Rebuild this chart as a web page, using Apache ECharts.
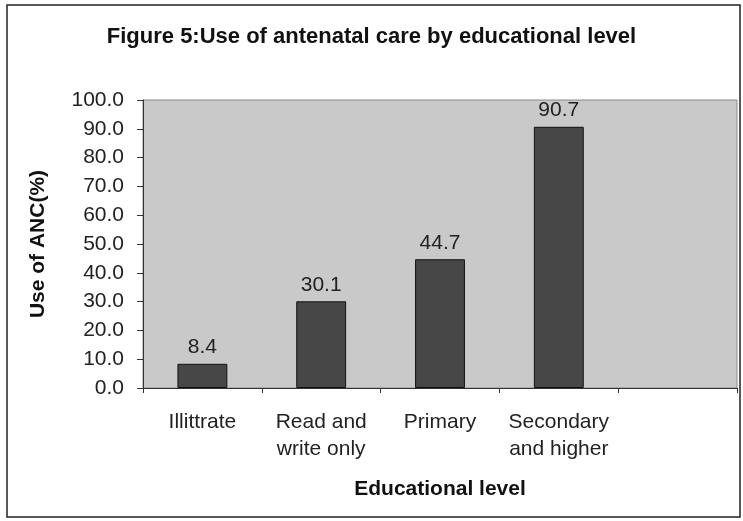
<!DOCTYPE html>
<html>
<head>
<meta charset="utf-8">
<script src="https://cdn.jsdelivr.net/npm/echarts@6/dist/echarts.min.js"></script>
<style>
  html, body { margin: 0; padding: 0; background: #ffffff; }
  #chart { width: 743px; height: 521px; }
</style>
</head>
<body>
<div id="chart"></div>
<script>
// Education categories (last slot intentionally blank)
const categories = ['Illittrate', 'Read and\nwrite only', 'Primary', 'Secondary\nand higher', ''];
// Share of women using antenatal care, %
const ancUse = [8.4, 30.1, 44.7, 90.7, null];
const yTicks = { min: 0, max: 100, interval: 10 };

const chart = echarts.init(document.getElementById('chart'));
const fontFam = '"Liberation Sans", Arial, sans-serif';

chart.setOption({
  backgroundColor: '#ffffff',
  animation: false,
  title: {
    text: 'Figure 5:Use of antenatal care by educational level',
    left: 'center',
    top: 21,
    textStyle: { fontFamily: fontFam, fontSize: 22, fontWeight: 'bold', color: '#111' }
  },
  graphic: [{
    type: 'rect',
    shape: { x: 7, y: 5, width: 733, height: 512 },
    style: { fill: 'none', stroke: '#222', lineWidth: 1.5 },
    silent: true
  }],
  grid: {
    left: 143, right: 6, top: 100, bottom: 133,
    show: true,
    backgroundColor: '#c9c9c9',
    borderColor: '#8a8a8a',
    borderWidth: 1
  },
  xAxis: {
    type: 'category',
    data: categories,
    name: 'Educational level',
    nameLocation: 'middle',
    nameGap: 91,
    nameTextStyle: { fontFamily: fontFam, fontSize: 21, fontWeight: 'bold', color: '#111' },
    axisLine: { lineStyle: { color: '#333', width: 1 } },
    axisTick: { show: true, length: 5, lineStyle: { color: '#333' } },
    axisLabel: {
      fontFamily: fontFam, fontSize: 21, color: '#222',
      margin: 21, lineHeight: 27, interval: 0
    }
  },
  yAxis: {
    type: 'value',
    min: yTicks.min, max: yTicks.max, interval: yTicks.interval,
    name: 'Use of ANC(%)',
    nameLocation: 'middle',
    nameGap: 94,
    nameTextStyle: { fontFamily: fontFam, fontSize: 21, fontWeight: 'bold', color: '#111' },
    axisLine: { show: true, lineStyle: { color: '#333', width: 1 } },
    axisTick: { show: true, length: 6, lineStyle: { color: '#333' } },
    splitLine: { show: false },
    axisLabel: {
      fontFamily: fontFam, fontSize: 21, color: '#222', margin: 19,
      formatter: v => v.toFixed(1)
    }
  },
  series: [{
    type: 'bar',
    data: ancUse,
    barWidth: '42%',
    itemStyle: { color: '#474747', borderColor: '#111', borderWidth: 1 },
    label: {
      show: true, position: 'top', distance: 6,
      fontFamily: fontFam, fontSize: 21, color: '#222',
      formatter: p => p.value.toFixed(1)
    }
  }]
});
</script>
</body>
</html>
